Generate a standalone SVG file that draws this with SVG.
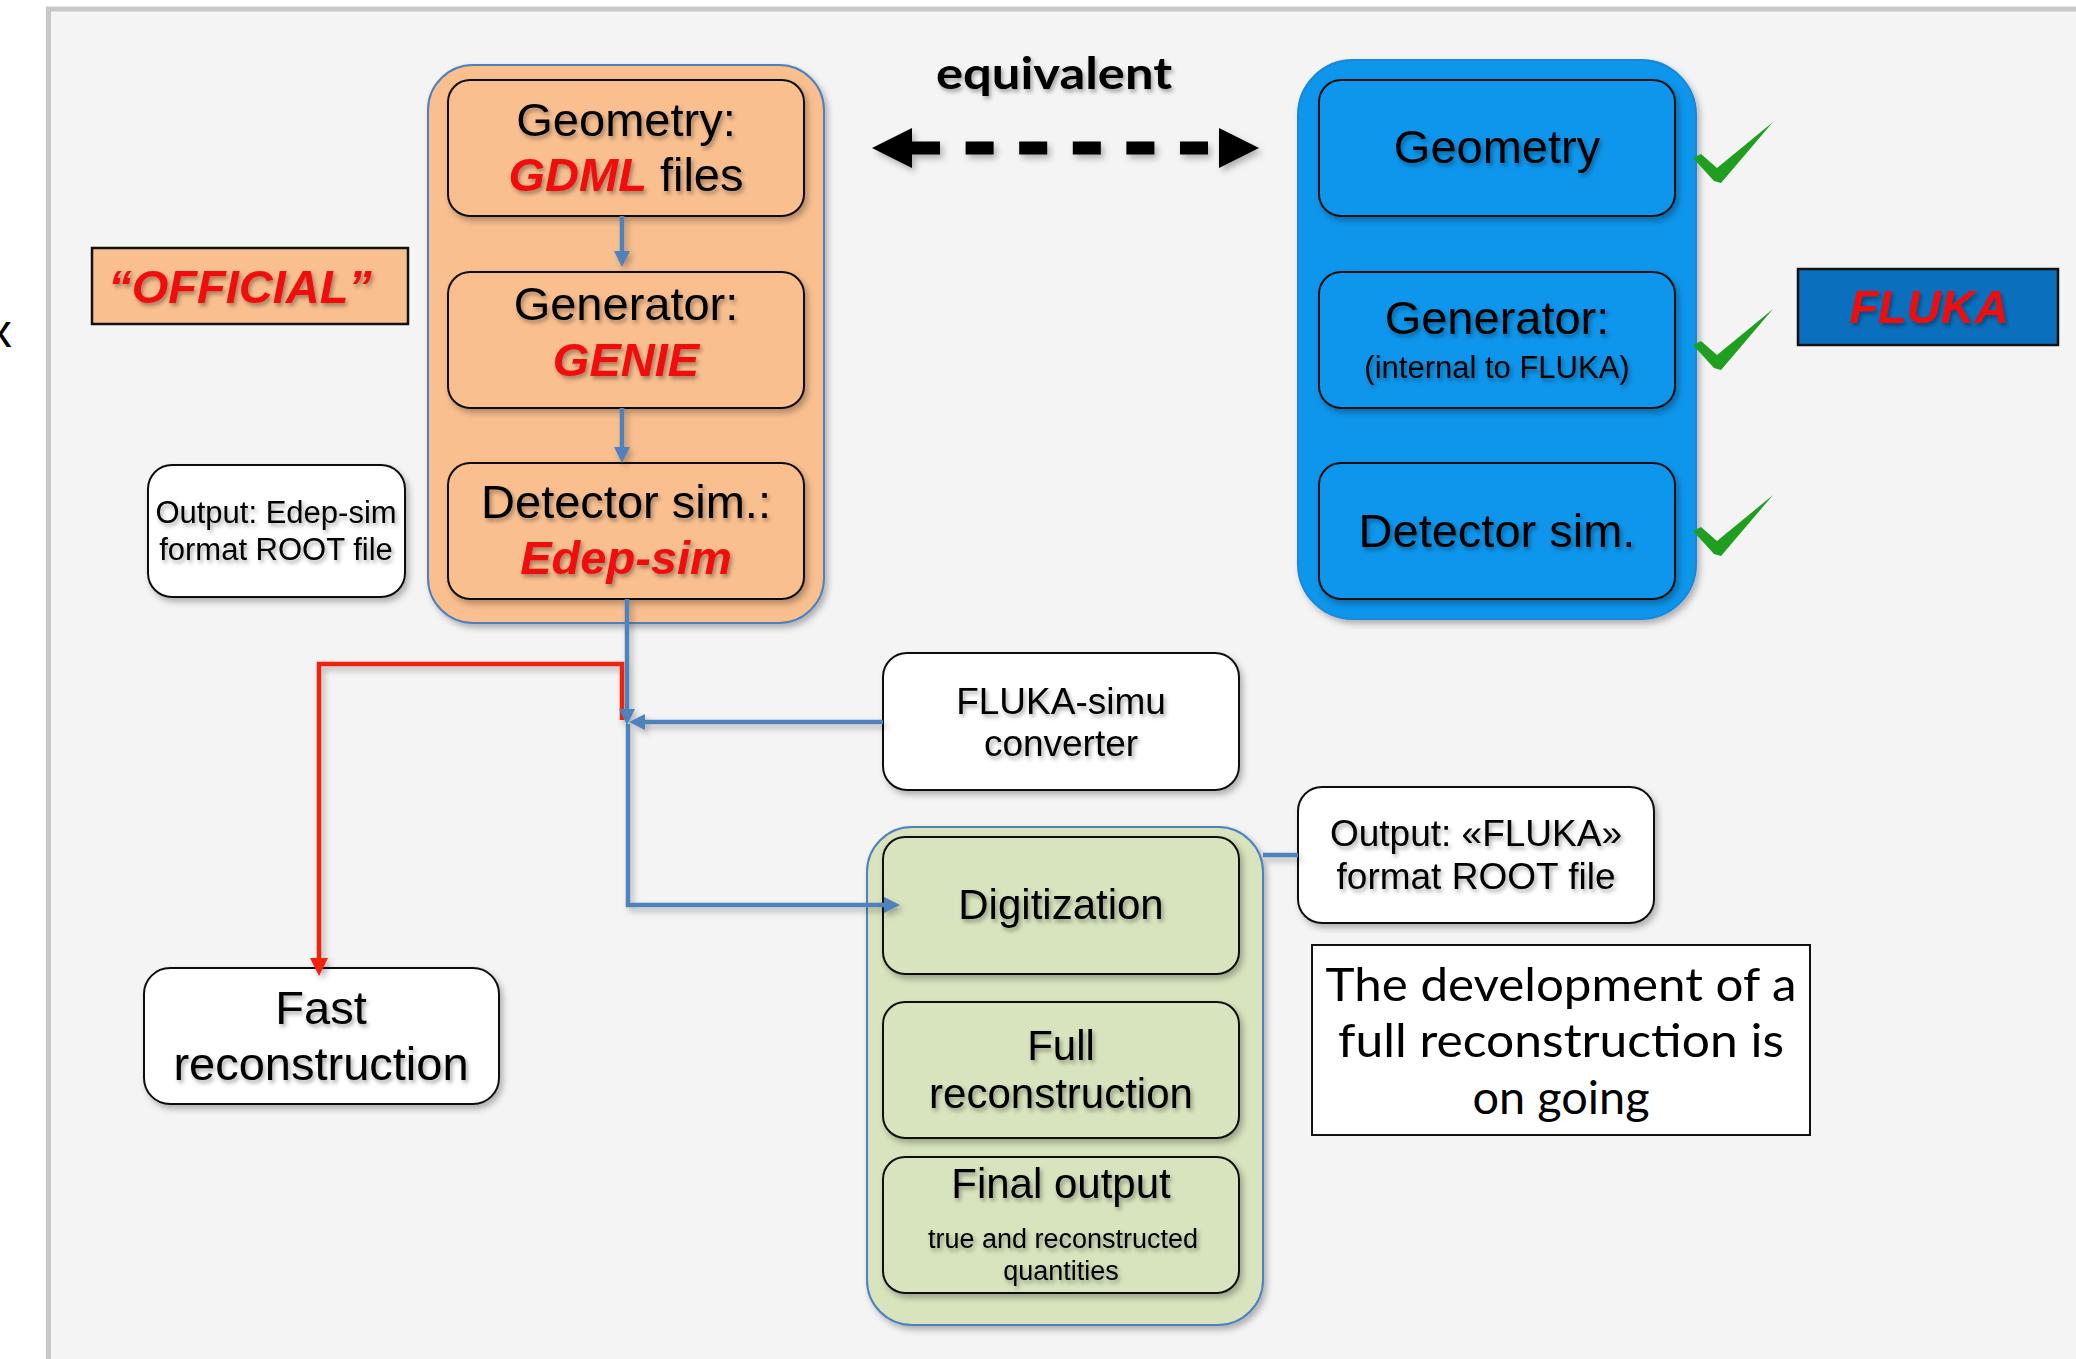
<svg xmlns="http://www.w3.org/2000/svg" xmlns:xlink="http://www.w3.org/1999/xlink" width="2076" height="1359" viewBox="0 0 2076 1359">
<style>
.t{font-family:"Liberation Sans",Arial,sans-serif;fill:#000;text-anchor:middle}
.b{font-weight:bold;font-style:italic;fill:#f00a0a}
.inner{stroke:#111;stroke-width:2}
.out{fill:#fff;stroke:#111;stroke-width:2}
.cb{fill:none;stroke:#4f81bd;stroke-width:4.5}
.cr{fill:none;stroke:#ee2010;stroke-width:4.5}
</style>
<defs>
<filter id="ds" x="-10%" y="-10%" width="130%" height="130%">
<feDropShadow dx="3" dy="4" stdDeviation="3" flood-color="#000" flood-opacity="0.28"/>
</filter>
<filter id="ts" x="-10%" y="-20%" width="130%" height="160%">
<feDropShadow dx="2" dy="3" stdDeviation="2" flood-color="#000" flood-opacity="0.35"/>
</filter>
<marker id="ab" viewBox="0 0 16 16" markerWidth="16" markerHeight="17" refX="0" refY="8" orient="auto" markerUnits="userSpaceOnUse">
<path d="M0,0 L16,8 L0,16 z" fill="#4f81bd"/>
</marker>
<marker id="ar" viewBox="0 0 18 18" markerWidth="18" markerHeight="18" refX="0" refY="9" orient="auto" markerUnits="userSpaceOnUse">
<path d="M0,0 L18,9 L0,18 z" fill="#ee2010"/>
</marker>
<marker id="ak" viewBox="0 0 40 40" markerWidth="40" markerHeight="40" refX="0" refY="20" orient="auto-start-reverse" markerUnits="userSpaceOnUse">
<path d="M0,0 L40,20 L0,40 z" fill="#000"/>
</marker>
<path id="chk" d="M1693,158 L1701,154 L1717,168 L1773,122 L1721,183 L1714,181 z" fill="#1f9e1f"/>
</defs>

<rect x="0" y="0" width="2076" height="1359" fill="#fff"/>
<rect x="48.5" y="9" width="2100" height="1400" fill="#f4f4f4" stroke="#c8c8c8" stroke-width="5"/>
<text class="t" x="0" y="347" font-size="47">x</text>

<!-- left (official) chain -->
<g id="official-container">
<rect x="428" y="65" width="396" height="558" rx="45" fill="#f9bf8f" stroke="#4f81bd" stroke-width="2" filter="url(#ds)"/>
</g>
<g id="official-label">
<rect x="92" y="248" width="316" height="76" fill="#f9bf8f" stroke="#111" stroke-width="2.5"/>
<text class="t b" x="240" y="303" font-size="47" filter="url(#ts)">“OFFICIAL”</text>
</g>
<g id="geometry-gdml">
<rect class="inner" x="448" y="80" width="356" height="136" rx="22" fill="#f9bf8f" filter="url(#ds)"/>
<text class="t" x="626" y="136" font-size="47" filter="url(#ts)">Geometry:</text>
<text class="t" x="626" y="191" font-size="47" filter="url(#ts)"><tspan class="b">GDML</tspan> files</text>
</g>
<g id="generator-genie">
<rect class="inner" x="448" y="272" width="356" height="136" rx="22" fill="#f9bf8f" filter="url(#ds)"/>
<text class="t" x="626" y="320" font-size="47" filter="url(#ts)">Generator:</text>
<text class="t b" x="626" y="376" font-size="47" filter="url(#ts)">GENIE</text>
</g>
<g id="detector-edepsim">
<rect class="inner" x="448" y="463" width="356" height="136" rx="22" fill="#f9bf8f" filter="url(#ds)"/>
<text class="t" x="626" y="518" font-size="47" filter="url(#ts)">Detector sim.:</text>
<text class="t b" x="626" y="574" font-size="47" filter="url(#ts)">Edep-sim</text>
</g>
<g id="output-edepsim">
<rect class="out" x="148" y="465" width="257" height="132" rx="24" filter="url(#ds)"/>
<text class="t" x="276" y="523" font-size="31" filter="url(#ts)">Output: Edep-sim</text>
<text class="t" x="276" y="560" font-size="31" filter="url(#ts)">format ROOT file</text>
</g>

<!-- equivalent label -->
<g id="equivalent">
<text x="1054" y="89" font-family="Lato,'Open Sans',sans-serif" font-weight="bold" font-size="43" text-anchor="middle" textLength="236" lengthAdjust="spacingAndGlyphs" filter="url(#ts)">equivalent</text>
</g>

<!-- FLUKA chain -->
<g id="fluka-container">
<rect x="1298" y="60" width="398" height="559" rx="55" fill="#0896ec" stroke="#1a86d8" stroke-width="2" filter="url(#ds)"/>
</g>
<g id="fluka-geometry">
<rect class="inner" x="1319" y="80" width="356" height="136" rx="22" fill="#0896ec" filter="url(#ds)"/>
<text class="t" x="1497" y="163" font-size="47" filter="url(#ts)">Geometry</text>
</g>
<g id="fluka-generator">
<rect class="inner" x="1319" y="272" width="356" height="136" rx="22" fill="#0896ec" filter="url(#ds)"/>
<text class="t" x="1497" y="334" font-size="47" filter="url(#ts)">Generator:</text>
<text class="t" x="1497" y="378" font-size="31" filter="url(#ts)">(internal to FLUKA)</text>
</g>
<g id="fluka-detector">
<rect class="inner" x="1319" y="463" width="356" height="136" rx="22" fill="#0896ec" filter="url(#ds)"/>
<text class="t" x="1497" y="547" font-size="47" filter="url(#ts)">Detector sim.</text>
</g>
<g id="checks">
<use xlink:href="#chk"/>
<use xlink:href="#chk" transform="translate(0,187)"/>
<use xlink:href="#chk" transform="translate(0,373)"/>
</g>
<g id="fluka-label">
<rect x="1798" y="269" width="260" height="76" fill="#0a70bd" stroke="#111" stroke-width="2.5"/>
<text class="t b" x="1929" y="323" font-size="47" filter="url(#ts)">FLUKA</text>
</g>

<!-- lower part -->
<g id="converter">
<rect class="out" x="883" y="653" width="356" height="137" rx="24" filter="url(#ds)"/>
<text class="t" x="1061" y="714" font-size="37" filter="url(#ts)">FLUKA-simu</text>
<text class="t" x="1061" y="756" font-size="37" filter="url(#ts)">converter</text>
</g>
<g id="output-fluka">
<rect class="out" x="1298" y="787" width="356" height="136" rx="24" filter="url(#ds)"/>
<text class="t" x="1476" y="846" font-size="37" filter="url(#ts)">Output: «FLUKA»</text>
<text class="t" x="1476" y="889" font-size="37" filter="url(#ts)">format ROOT file</text>
</g>
<g id="fast-reco">
<rect class="out" x="144" y="968" width="355" height="136" rx="26" filter="url(#ds)"/>
<text class="t" x="321" y="1024" font-size="47" filter="url(#ts)">Fast</text>
<text class="t" x="321" y="1080" font-size="47" filter="url(#ts)">reconstruction</text>
</g>
<g id="reco-container">
<rect x="867" y="827" width="396" height="498" rx="45" fill="#d7e4bd" stroke="#4f81bd" stroke-width="2" filter="url(#ds)"/>
</g>
<g id="digitization">
<rect class="inner" x="883" y="837" width="356" height="137" rx="22" fill="#d7e4bd" filter="url(#ds)"/>
<text class="t" x="1061" y="919" font-size="42" filter="url(#ts)">Digitization</text>
</g>
<g id="full-reco">
<rect class="inner" x="883" y="1002" width="356" height="136" rx="22" fill="#d7e4bd" filter="url(#ds)"/>
<text class="t" x="1061" y="1060" font-size="42" filter="url(#ts)">Full</text>
<text class="t" x="1061" y="1108" font-size="42" filter="url(#ts)">reconstruction</text>
</g>
<g id="final-output">
<rect class="inner" x="883" y="1157" width="356" height="136" rx="22" fill="#d7e4bd" filter="url(#ds)"/>
<text class="t" x="1061" y="1198" font-size="42" filter="url(#ts)">Final output</text>
<text class="t" x="1063" y="1248" font-size="27" filter="url(#ts)">true and reconstructed</text>
<text class="t" x="1061" y="1280" font-size="27" filter="url(#ts)">quantities</text>
</g>
<g id="note">
<rect x="1312" y="945" width="498" height="190" fill="#fff" stroke="#111" stroke-width="2"/>
<g font-family="Lato,'Open Sans',sans-serif" font-size="47" text-anchor="middle" lengthAdjust="spacingAndGlyphs">
<text x="1561" y="1001" textLength="471" lengthAdjust="spacingAndGlyphs">The development of a</text>
<text x="1561" y="1057" textLength="446" lengthAdjust="spacingAndGlyphs">full reconstruction is</text>
<text x="1561" y="1114" textLength="177" lengthAdjust="spacingAndGlyphs">on going</text>
</g>
</g>

<!-- connectors -->
<g id="connectors" filter="url(#ds)">
<path d="M912,148 L1219,148" fill="none" stroke="#000" stroke-width="13" stroke-dasharray="28 25.6" marker-start="url(#ak)" marker-end="url(#ak)"/>
<path class="cb" d="M622,216 L622,251" marker-end="url(#ab)"/>
<path class="cb" d="M622,408 L622,447" marker-end="url(#ab)"/>
<path class="cr" d="M622,720 L622,664 L319,664 L319,958" marker-end="url(#ar)"/>
<path class="cb" d="M627,599 L627,709" marker-end="url(#ab)"/>
<path class="cb" d="M883,722 L645,722" marker-end="url(#ab)"/>
<path class="cb" d="M628,724 L628,905 L884,905" marker-end="url(#ab)"/>
<path class="cb" d="M1263,855 L1298,855"/>
</g>
</svg>
